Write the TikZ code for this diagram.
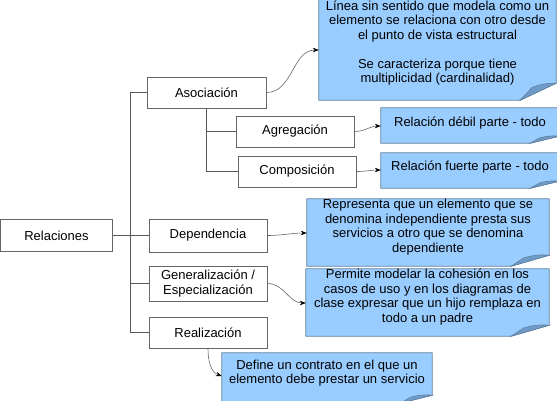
\documentclass[tikz,border=0pt]{standalone}
\usepackage{fontspec}
\setmainfont{Liberation Sans}
\usetikzlibrary{arrows.meta,backgrounds}

\definecolor{notefill}{HTML}{99CCFF}
\definecolor{notefold}{HTML}{6F9BC9}
\definecolor{noteline}{HTML}{5F7F9F}
\definecolor{boxline}{HTML}{666666}

% folded note outline: node, fold width, fold height, extra depth
\newcommand{\foldnote}[4]{%
  \begin{pgfonlayer}{background}
    \draw[noteline,line width=0.8pt,fill=notefill] (#1.north west) -- (#1.north east)
      -- ([yshift={#3pt-#4pt}]#1.south east)
      -- ([xshift=-#2pt,yshift=-#4pt]#1.south east)
      -- ([yshift=-#4pt]#1.south west) -- cycle;
    \draw[noteline,line width=0.6pt,fill=notefold] ([xshift=-#2pt,yshift=-#4pt]#1.south east)
      -- ([xshift={-0.67*#2pt},yshift={0.75*#3pt-#4pt}]#1.south east)
      to[bend left=10] ([yshift={#3pt-#4pt}]#1.south east) -- cycle;
  \end{pgfonlayer}}

\begin{document}
\begin{tikzpicture}[x=1pt,y=-1pt,font=\fontsize{13}{14.5}\selectfont]
  \tikzstyle{box}=[draw=boxline,line width=0.8pt,fill=white,align=center,inner sep=0pt,minimum width=118pt,minimum height=31pt]
  \tikzstyle{note}=[align=center,inner sep=0pt]
  \tikzstyle{tree}=[draw=black!65,line width=0.7pt]
  \tikzstyle{link}=[draw=black!60,line width=0.6pt,-{Stealth[length=6pt,width=4.5pt,black]}]
  \useasboundingbox (0,0) rectangle (557,400);

  % Boxes
  \node[box,minimum width=112pt,minimum height=32pt] (rel) at (56.5,235.5) {Relaciones};
  \node[box,minimum width=119pt] (asoc) at (206.5,92.5) {Asociación};
  \node[box] (agr) at (295,131.5) {Agregación};
  \node[box] (comp) at (297,171.5) {Composición};
  \node[box,minimum height=33pt] (dep) at (208,235.5) {Dependencia};
  \node[box,minimum height=35pt] (gen) at (208,283.5) {Generalización /\\Especialización};
  \node[box] (real) at (208,332.5) {Realización};

  % Notes
  \node[note,minimum width=237pt,minimum height=114pt] (n1) at (437.5,43)
    {Línea sin sentido que modela como un\\elemento se relaciona con otro desde\\el punto de vista estructural\\[14.5pt]Se caracteriza porque tiene\\multiplicidad (cardinalidad)};
  \node[note,minimum width=178pt,minimum height=30pt] (n2) at (470,123) {Relación débil parte - todo};
  \node[note,minimum width=178pt,minimum height=28pt] (n3) at (470,167) {Relación fuerte parte - todo};
  \node[note,minimum width=242pt,minimum height=56pt] (n4) at (428,227)
    {Representa que un elemento que se\\denomina independiente presta sus\\servicios a otro que se denomina\\dependiente};
  \node[note,minimum width=243pt,minimum height=56pt] (n5) at (427.5,297)
    {Permite modelar la cohesión en los\\casos de uso y en los diagramas de\\clase expresar que un hijo remplaza en\\todo a un padre};
  \node[note,minimum width=210pt,minimum height=40pt] (n6) at (327,373)
    {Define un contrato en el que un\\elemento debe prestar un servicio};
  \foldnote{n1}{36}{17}{0}
  \foldnote{n2}{29}{7}{5}
  \foldnote{n3}{29}{7}{7}
  \foldnote{n4}{38}{11}{11}
  \foldnote{n5}{38}{11}{11}
  \foldnote{n6}{32}{8}{10}

  % Tree
  \coordinate (trunk) at (130,0);
  \draw[tree] (asoc.west) -- (asoc.west -| trunk) |- (real.west);
  \draw[tree] (rel.east) -- (dep.west);
  \draw[tree] (gen.west) -- (gen.west -| trunk);
  \draw[tree] (asoc.south) |- (comp.west);
  \draw[tree] (asoc.south |- agr.west) -- (agr.west);

  % Links to notes
  \draw[link] (asoc.east) to[out=0,in=180] ([yshift=-7pt]n1.west);
  \draw[link] (agr.east) to[out=0,in=180] ([yshift=-3pt]n2.west);
  \draw[link] (comp.east) to[out=0,in=180] ([yshift=-3pt]n3.west);
  \draw[link] (dep.east) to[out=0,in=180] ([yshift=-6pt]n4.west);
  \draw[link] (gen.east) to[out=0,in=180] ([yshift=-6pt]n5.west);
  \draw[link] (real.south) to[out=-90,in=160] ([yshift=-3pt]n6.west);
\end{tikzpicture}
\end{document}
